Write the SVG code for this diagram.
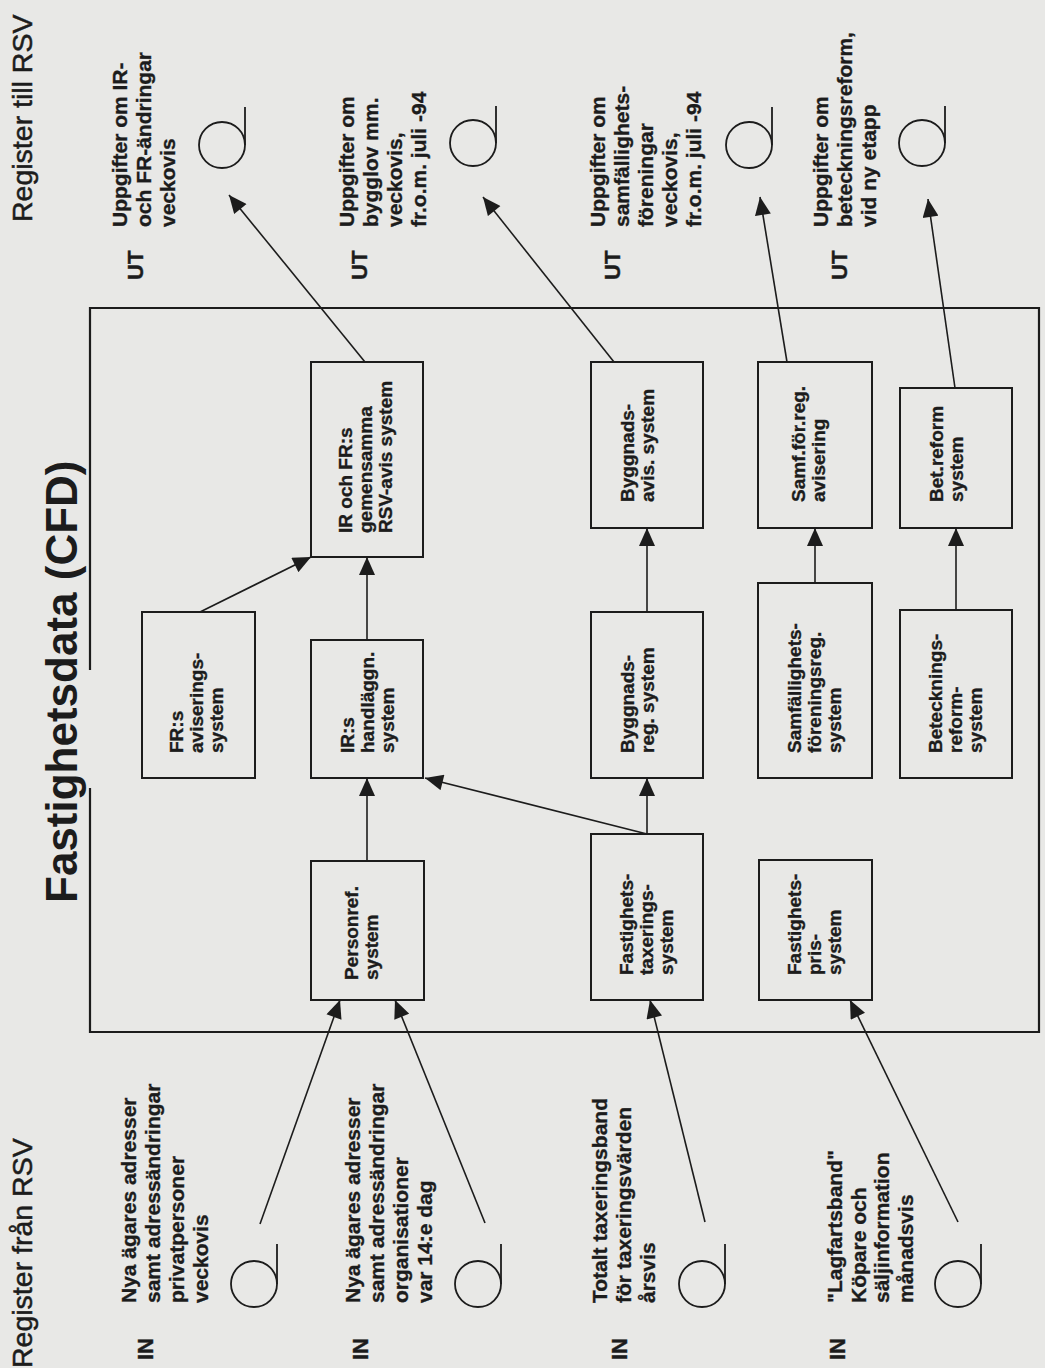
<svg xmlns="http://www.w3.org/2000/svg" width="1045" height="1368" viewBox="0 0 1045 1368">
<style>
.t{font-family:"Liberation Sans",Arial,Helvetica,sans-serif;font-weight:bold;font-size:21px;fill:#1c1c1c;stroke:#1c1c1c;stroke-width:0.35}
.b{font-family:"Liberation Sans",Arial,Helvetica,sans-serif;font-weight:bold;font-size:19px;fill:#1c1c1c;stroke:#1c1c1c;stroke-width:0.35}
.h{font-family:"Liberation Sans",Arial,Helvetica,sans-serif;font-size:28.5px;fill:#1c1c1c;stroke:#1c1c1c;stroke-width:0.5}
.ti{font-family:"Liberation Sans",Arial,Helvetica,sans-serif;font-weight:bold;font-size:44px;fill:#1c1c1c}
.lab{font-family:"Liberation Sans",Arial,Helvetica,sans-serif;font-weight:bold;font-size:22px;fill:#1c1c1c;stroke:#1c1c1c;stroke-width:0.4}
.box{fill:none;stroke:#1c1c1c;stroke-width:2}
.frame{fill:none;stroke:#1c1c1c;stroke-width:2.2}
.ln{fill:none;stroke:#1c1c1c;stroke-width:1.6}
.st{fill:none;stroke:#1c1c1c;stroke-width:1.8}
</style>
<defs>
<marker id="ah" viewBox="0 0 18 16" refX="18" refY="8" markerWidth="19" markerHeight="16" orient="auto" markerUnits="userSpaceOnUse">
<path d="M0,0 L18,8 L0,16 z" fill="#1c1c1c"/>
</marker>
</defs>
<rect x="0" y="0" width="1045" height="1368" fill="#e8e8e6"/>

<g id="headings">
<text class="h" transform="translate(32,222) rotate(-90)">Register till RSV</text>
<text class="h" transform="translate(32,1368) rotate(-90)">Register från RSV</text>
<text class="ti" transform="translate(77,903) rotate(-90)">Fastighetsdata (CFD)</text>
</g>

<g id="frame">
<path class="frame" d="M90,670 V308 H1039 V1032 H90 V788"/>
</g>

<g id="ut1">
<text class="lab" transform="translate(143,280) rotate(-90)">UT</text>
<text class="t" transform="translate(127,227) rotate(-90)"><tspan x="0" y="0">Uppgifter om IR-</tspan><tspan x="0" y="24">och FR-ändringar</tspan><tspan x="0" y="48">veckovis</tspan></text>
<circle class="st" cx="222" cy="145" r="23"/><line class="st" x1="245" y1="145" x2="245" y2="107"/>
</g>
<g id="ut2">
<text class="lab" transform="translate(367,280) rotate(-90)">UT</text>
<text class="t" transform="translate(354,227) rotate(-90)"><tspan x="0" y="0">Uppgifter om</tspan><tspan x="0" y="24">bygglov mm.</tspan><tspan x="0" y="48">veckovis,</tspan><tspan x="0" y="72">fr.o.m. juli -94</tspan></text>
<circle class="st" cx="473" cy="143" r="23"/><line class="st" x1="496" y1="143" x2="496" y2="106"/>
</g>
<g id="ut3">
<text class="lab" transform="translate(620,280) rotate(-90)">UT</text>
<text class="t" transform="translate(605,227) rotate(-90)"><tspan x="0" y="0">Uppgifter om</tspan><tspan x="0" y="24">samfällighets-</tspan><tspan x="0" y="48">föreningar</tspan><tspan x="0" y="72">veckovis,</tspan><tspan x="0" y="96">fr.o.m. juli -94</tspan></text>
<circle class="st" cx="749" cy="145" r="23"/><line class="st" x1="772" y1="145" x2="772" y2="107"/>
</g>
<g id="ut4">
<text class="lab" transform="translate(847,280) rotate(-90)">UT</text>
<text class="t" transform="translate(828,227) rotate(-90)"><tspan x="0" y="0">Uppgifter om</tspan><tspan x="0" y="24">beteckningsreform,</tspan><tspan x="0" y="48">vid ny etapp</tspan></text>
<circle class="st" cx="922" cy="143" r="23"/><line class="st" x1="945" y1="143" x2="945" y2="106"/>
</g>

<g id="in1">
<text class="lab" transform="translate(153,1360) rotate(-90)">IN</text>
<text class="t" transform="translate(136,1303) rotate(-90)"><tspan x="0" y="0">Nya ägares adresser</tspan><tspan x="0" y="24">samt adressändringar</tspan><tspan x="0" y="48">privatpersoner</tspan><tspan x="0" y="72">veckovis</tspan></text>
<circle class="st" cx="254" cy="1284" r="23"/><line class="st" x1="277" y1="1284" x2="277" y2="1244"/>
</g>
<g id="in2">
<text class="lab" transform="translate(368,1360) rotate(-90)">IN</text>
<text class="t" transform="translate(360,1303) rotate(-90)"><tspan x="0" y="0">Nya ägares adresser</tspan><tspan x="0" y="24">samt adressändringar</tspan><tspan x="0" y="48">organisationer</tspan><tspan x="0" y="72">var 14:e dag</tspan></text>
<circle class="st" cx="478" cy="1284" r="23"/><line class="st" x1="501" y1="1284" x2="501" y2="1244"/>
</g>
<g id="in3">
<text class="lab" transform="translate(627,1360) rotate(-90)">IN</text>
<text class="t" transform="translate(607,1303) rotate(-90)"><tspan x="0" y="0">Totalt taxeringsband</tspan><tspan x="0" y="24">för taxeringsvärden</tspan><tspan x="0" y="48">årsvis</tspan></text>
<circle class="st" cx="702" cy="1284" r="23"/><line class="st" x1="725" y1="1284" x2="725" y2="1244"/>
</g>
<g id="in4">
<text class="lab" transform="translate(845,1360) rotate(-90)">IN</text>
<text class="t" transform="translate(842,1303) rotate(-90)"><tspan x="0" y="0">"Lagfartsband"</tspan><tspan x="0" y="23.5">Köpare och</tspan><tspan x="0" y="47">säljinformation</tspan><tspan x="0" y="70.5">månadsvis</tspan></text>
<circle class="st" cx="958" cy="1284" r="23"/><line class="st" x1="981" y1="1284" x2="981" y2="1244"/>
</g>

<g id="irfr"><rect class="box" x="311" y="362" width="112" height="195"/>
<text class="b" transform="translate(352,533) rotate(-90)"><tspan x="0" y="0">IR och FR:s</tspan><tspan x="0" y="20">gemensamma</tspan><tspan x="0" y="40">RSV-avis system</tspan></text></g>
<g id="frs"><rect class="box" x="142" y="612" width="113" height="166"/>
<text class="b" transform="translate(183,753) rotate(-90)"><tspan x="0" y="0">FR:s</tspan><tspan x="0" y="20">aviserings-</tspan><tspan x="0" y="40">system</tspan></text></g>
<g id="irs"><rect class="box" x="311" y="640" width="112" height="138"/>
<text class="b" transform="translate(354,753) rotate(-90)"><tspan x="0" y="0">IR:s</tspan><tspan x="0" y="20">handläggn.</tspan><tspan x="0" y="40">system</tspan></text></g>
<g id="pers"><rect class="box" x="311" y="861" width="113" height="139"/>
<text class="b" transform="translate(358,980) rotate(-90)"><tspan x="0" y="0">Personref.</tspan><tspan x="0" y="20">system</tspan></text></g>
<g id="bavis"><rect class="box" x="591" y="362" width="112" height="166"/>
<text class="b" transform="translate(634,502) rotate(-90)"><tspan x="0" y="0">Byggnads-</tspan><tspan x="0" y="20">avis. system</tspan></text></g>
<g id="samfav"><rect class="box" x="758" y="362" width="114" height="166"/>
<text class="b" transform="translate(805,502) rotate(-90)"><tspan x="0" y="0">Samf.för.reg.</tspan><tspan x="0" y="20">avisering</tspan></text></g>
<g id="betref"><rect class="box" x="900" y="388" width="112" height="140"/>
<text class="b" transform="translate(943,502) rotate(-90)"><tspan x="0" y="0">Bet.reform</tspan><tspan x="0" y="20">system</tspan></text></g>
<g id="breg"><rect class="box" x="591" y="612" width="112" height="166"/>
<text class="b" transform="translate(634,753) rotate(-90)"><tspan x="0" y="0">Byggnads-</tspan><tspan x="0" y="20">reg. system</tspan></text></g>
<g id="samfreg"><rect class="box" x="758" y="583" width="114" height="195"/>
<text class="b" transform="translate(801,753) rotate(-90)"><tspan x="0" y="0">Samfällighets-</tspan><tspan x="0" y="20">föreningsreg.</tspan><tspan x="0" y="40">system</tspan></text></g>
<g id="betreg"><rect class="box" x="900" y="610" width="112" height="168"/>
<text class="b" transform="translate(942,753) rotate(-90)"><tspan x="0" y="0">Betecknings-</tspan><tspan x="0" y="20">reform-</tspan><tspan x="0" y="40">system</tspan></text></g>
<g id="tax"><rect class="box" x="591" y="834" width="112" height="166"/>
<text class="b" transform="translate(633,975) rotate(-90)"><tspan x="0" y="0">Fastighets-</tspan><tspan x="0" y="20">taxerings-</tspan><tspan x="0" y="40">system</tspan></text></g>
<g id="pris"><rect class="box" x="759" y="860" width="113" height="140"/>
<text class="b" transform="translate(801,975) rotate(-90)"><tspan x="0" y="0">Fastighets-</tspan><tspan x="0" y="20">pris-</tspan><tspan x="0" y="40">system</tspan></text></g>

<g id="connectors">
<path class="ln" marker-end="url(#ah)" d="M367,861 L367,778"/>
<path class="ln" marker-end="url(#ah)" d="M367,640 L367,557"/>
<path class="ln" marker-end="url(#ah)" d="M200,612 L311,557"/>
<path class="ln" marker-end="url(#ah)" d="M647,834 L425,778"/>
<path class="ln" marker-end="url(#ah)" d="M647,834 L647,778"/>
<path class="ln" marker-end="url(#ah)" d="M647,612 L647,528"/>
<path class="ln" marker-end="url(#ah)" d="M614,362 L483,197"/>
<path class="ln" marker-end="url(#ah)" d="M365,362 L229,195"/>
<path class="ln" marker-end="url(#ah)" d="M815,583 L815,528"/>
<path class="ln" marker-end="url(#ah)" d="M787,362 L760,197"/>
<path class="ln" marker-end="url(#ah)" d="M956,610 L956,528"/>
<path class="ln" marker-end="url(#ah)" d="M955,388 L928,199"/>
<path class="ln" marker-end="url(#ah)" d="M260,1224 L340,1000"/>
<path class="ln" marker-end="url(#ah)" d="M485,1223 L395,1000"/>
<path class="ln" marker-end="url(#ah)" d="M705,1222 L650,1000"/>
<path class="ln" marker-end="url(#ah)" d="M958,1222 L850,1000"/>
</g>
</svg>
